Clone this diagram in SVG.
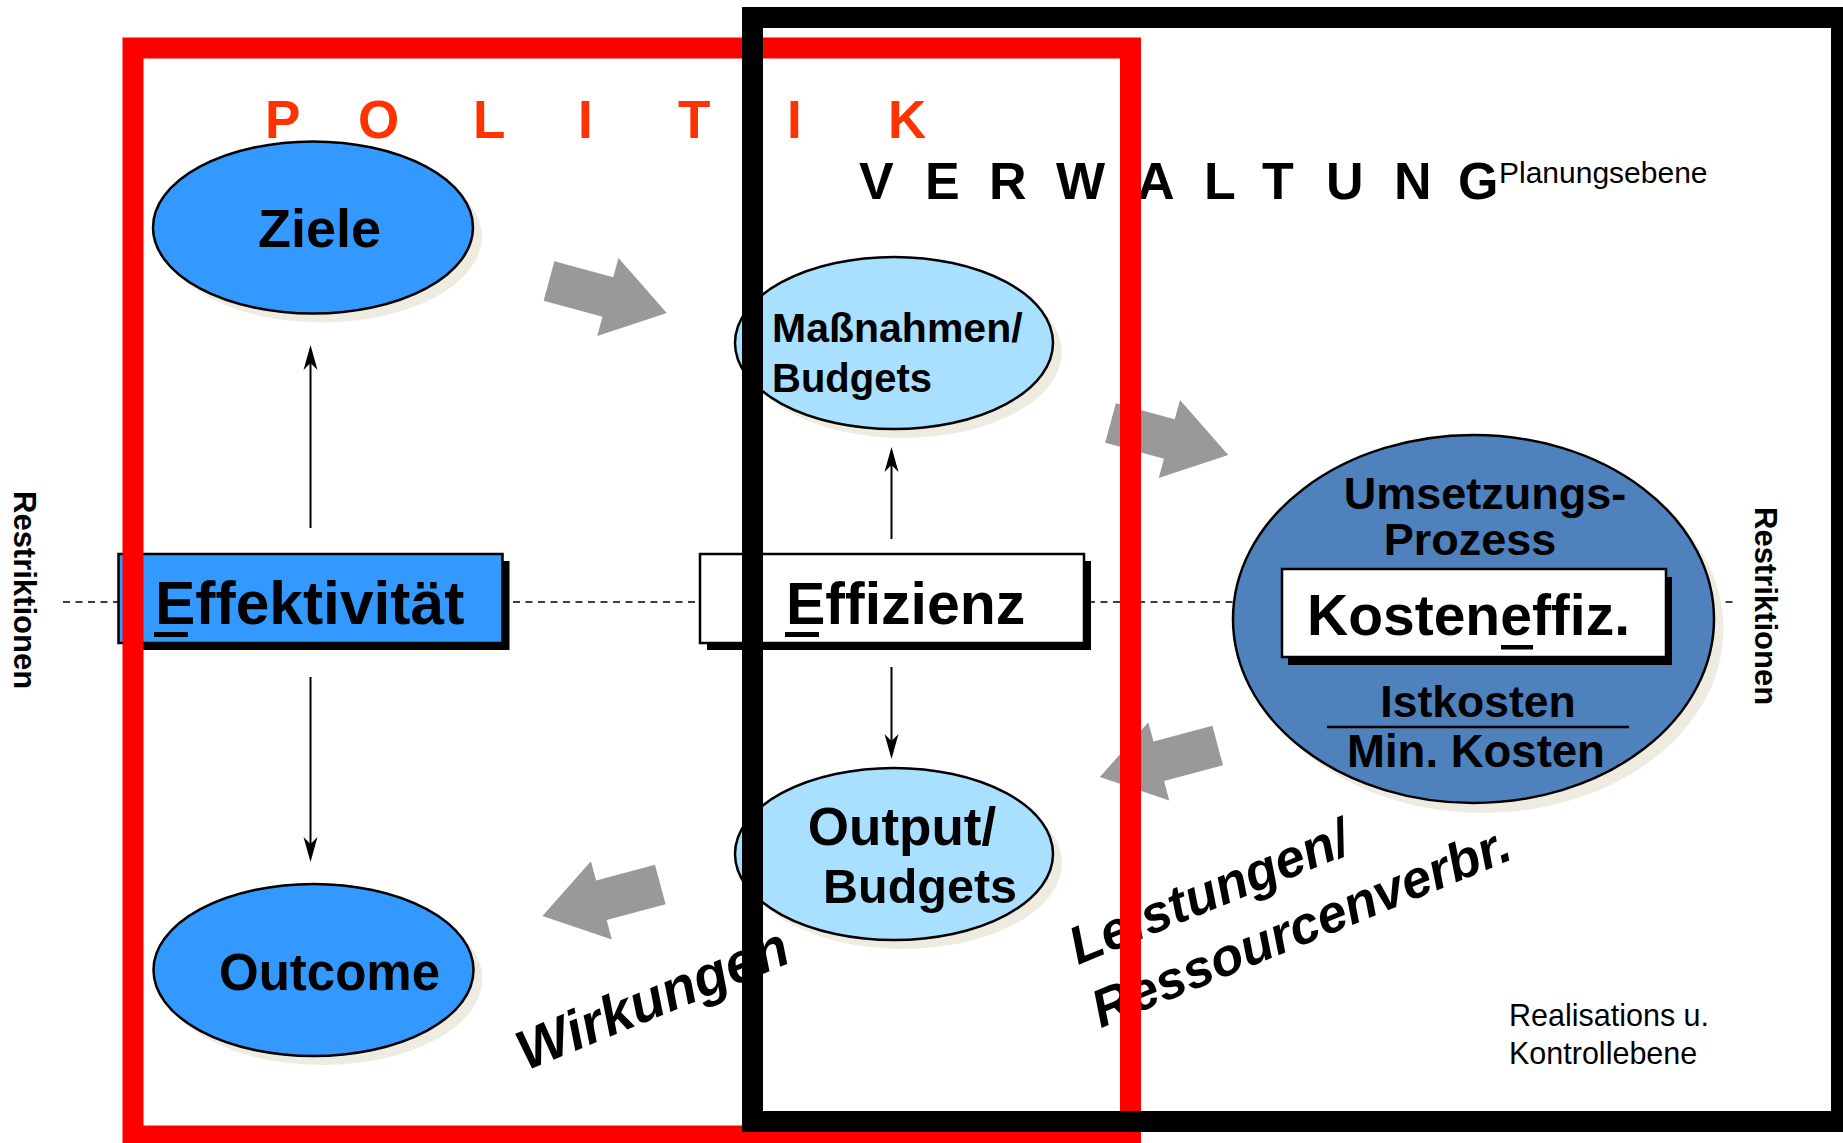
<svg xmlns="http://www.w3.org/2000/svg" xmlns:xlink="http://www.w3.org/1999/xlink" width="1843" height="1143" viewBox="0 0 1843 1143">
<style>
  text { font-family: "Liberation Sans", Arial, sans-serif; }
  .b { font-weight: bold; fill: #000; }
  .shadow { fill: #EEECE1; }
  .el { stroke: #000; stroke-width: 2.5; }
  .box { stroke: #000; stroke-width: 2.5; }
  .boxsh { fill: #000; }
  .conn { stroke: #000; stroke-width: 2; fill: none; marker-end: url(#ah); }
  .dash { stroke: #000; stroke-width: 1.6; stroke-dasharray: 7 5.5; fill: none; }
  .fat { fill: #999999; }
  .rot { font-weight: bold; font-style: italic; fill: #000; }
  .rest { font-weight: bold; font-size: 31px; fill: #000; }
  .small { font-size: 30px; fill: #000; }
</style>
<defs>
  <marker id="ah" markerWidth="26" markerHeight="16" viewBox="0 0 26 16" refX="7" refY="8" orient="auto" markerUnits="userSpaceOnUse">
    <path d="M0,1 L25,8 L0,15 L7,8 Z" fill="#000"/>
  </marker>
  <polygon id="fatArrow" points="0,-20.5 61,-20.5 61,-40.5 122,0 61,40.5 61,20.5 0,20.5"/>
</defs>

<!-- dashed axis -->
<g id="axis">
  <line class="dash" x1="63" y1="602" x2="1737" y2="602"/>
</g>

<!-- labels -->
<g id="labels">
  <text class="b" font-size="53" style="fill:#FF3300" y="138" x="265 358 473 578 678 787 888">POLITIK</text>
  <text class="b" font-size="52" y="199" x="859 925 989 1056 1137 1204 1262 1326 1394 1458">VERWALTUNG</text>
  <text class="small" x="1499" y="183" style="font-size:30px">Planungsebene</text>
  <text class="small" x="1509" y="1026" style="font-size:30.5px">Realisations u.</text>
  <text class="small" x="1509" y="1064" style="font-size:30.5px">Kontrollebene</text>
  <text class="rest" transform="translate(13.5,491) rotate(90)">Restriktionen</text>
  <text class="rest" transform="translate(1755,507) rotate(90)">Restriktionen</text>
  <text class="rot" font-size="56" transform="translate(526,1071) rotate(-22.3)">Wirkungen</text>
  <text class="rot" font-size="53" transform="translate(1078,965) rotate(-22.3)"><tspan x="0" y="0">Leistungen/</tspan><tspan x="-3" y="67">Ressourcenverbr.</tspan></text>
</g>

<!-- block arrows -->
<g id="flow-arrows" class="fat">
  <use xlink:href="#fatArrow" transform="translate(549,281) rotate(15.2)"/>
  <use xlink:href="#fatArrow" transform="translate(1110.5,423) rotate(15.2)"/>
  <use xlink:href="#fatArrow" transform="translate(1217.7,745.5) rotate(165)"/>
  <use xlink:href="#fatArrow" transform="translate(660.3,884.5) rotate(165)"/>
</g>

<!-- connectors -->
<g id="connectors">
  <line class="conn" x1="310.5" y1="528" x2="310.5" y2="363"/>
  <line class="conn" x1="310.5" y1="677" x2="310.5" y2="844"/>
  <line class="conn" x1="891.5" y1="539" x2="891.5" y2="465"/>
  <line class="conn" x1="891.5" y1="667" x2="891.5" y2="741"/>
</g>

<g id="ziele">
  <ellipse class="shadow" cx="322" cy="236.5" rx="160" ry="86"/>
  <ellipse class="el" cx="313" cy="227.5" rx="160" ry="86" fill="#3399FF"/>
  <text class="b" font-size="54" x="258" y="247">Ziele</text>
</g>

<g id="massnahmen">
  <ellipse class="shadow" cx="903" cy="352" rx="159" ry="86"/>
  <ellipse class="el" cx="894" cy="343" rx="159" ry="86" fill="#AAE0FF"/>
  <text class="b" font-size="41"><tspan x="772" y="342">Maßnahmen/</tspan></text>
  <text class="b" font-size="40"><tspan x="772" y="392">Budgets</tspan></text>
</g>

<g id="effektivitaet">
  <rect class="boxsh" x="125.5" y="561" width="384" height="89"/>
  <rect class="box" x="118.5" y="554" width="384" height="89" fill="#3399FF"/>
  <text class="b" font-size="60.5" x="155" y="624">Effektivität</text>
  <rect x="154" y="632" width="34" height="5" fill="#000"/>
</g>

<g id="effizienz">
  <rect class="boxsh" x="707" y="561" width="384" height="89"/>
  <rect class="box" x="700" y="554" width="384" height="89" fill="#FFFFFF"/>
  <text class="b" font-size="59" x="786" y="624">Effizienz</text>
  <rect x="785" y="632" width="34" height="5" fill="#000"/>
</g>

<g id="umsetzung">
  <ellipse class="shadow" cx="1483" cy="629" rx="240.5" ry="184"/>
  <ellipse class="el" cx="1473.5" cy="619" rx="240.5" ry="184" fill="#4F81BD"/>
  <text class="b" font-size="45" text-anchor="middle" x="1485" y="509">Umsetzungs-</text>
  <text class="b" font-size="45" text-anchor="middle" x="1470" y="555">Prozess</text>
  <rect class="boxsh" x="1288" y="577" width="384" height="88"/>
  <rect class="box" x="1282" y="569" width="384" height="88" fill="#FFFFFF"/>
  <text class="b" font-size="57" x="1307" y="635">Kosteneffiz.</text>
  <rect x="1501" y="645" width="32" height="4.5" fill="#000"/>
  <text class="b" font-size="44.5" text-anchor="middle" x="1478" y="717">Istkosten</text>
  <line x1="1327" y1="727" x2="1629" y2="727" stroke="#000" stroke-width="2.5"/>
  <text class="b" font-size="45.5" text-anchor="middle" x="1476" y="767">Min. Kosten</text>
</g>

<g id="output">
  <ellipse class="shadow" cx="903" cy="863" rx="159" ry="86"/>
  <ellipse class="el" cx="894" cy="854" rx="159" ry="86" fill="#AAE0FF"/>
  <text class="b" font-size="53" text-anchor="middle" x="902" y="845">Output/</text>
  <text class="b" font-size="48.5" text-anchor="middle" x="920" y="903">Budgets</text>
</g>

<g id="outcome">
  <ellipse class="shadow" cx="322.5" cy="979" rx="160" ry="86"/>
  <ellipse class="el" cx="313.5" cy="970" rx="160" ry="86" fill="#3399FF"/>
  <text class="b" font-size="51" x="219" y="990">Outcome</text>
</g>

<!-- frames -->
<g id="politik-frame">
  <rect x="133" y="48" width="997.5" height="1088" fill="none" stroke="#FF0000" stroke-width="21"/>
</g>
<g id="verwaltung-frame">
  <rect x="752.5" y="17.5" width="1089" height="1104" fill="none" stroke="#000000" stroke-width="21"/>
</g>
</svg>
